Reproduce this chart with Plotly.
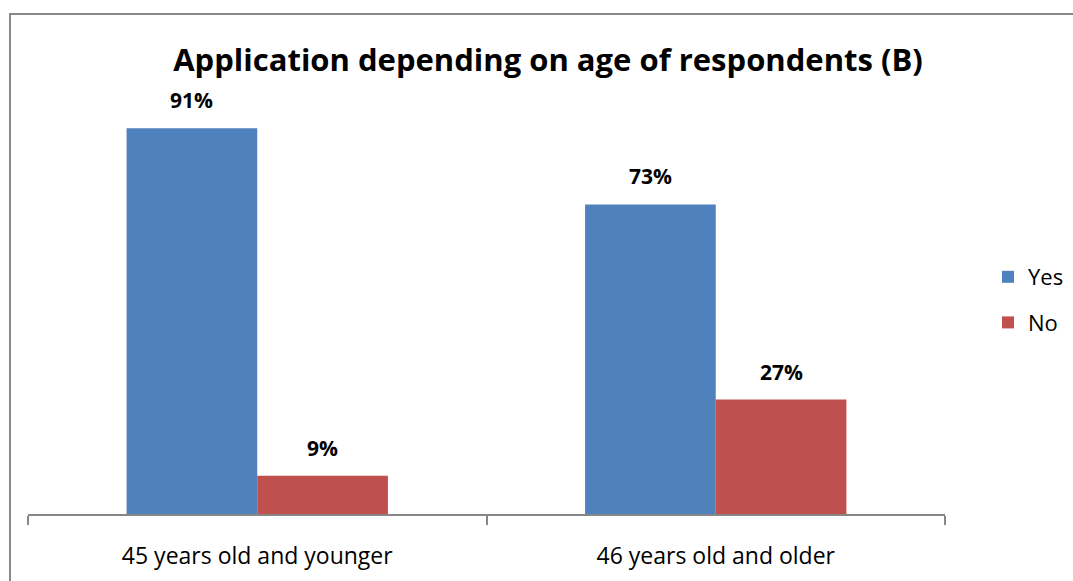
import plotly.graph_objects as go

categories = ["45 years old and younger", "46 years old and older"]
yes_values = [91, 73]
no_values = [9, 27]
series_names = ["Yes", "No"]
title_text = "Application depending on age of respondents (B)"

W, H = 1073, 581
L, R, T, B = 28, 0, 90, 67
PLOT_RIGHT = 945
pw, ph = W - L - R, H - T - B
dom_end = (PLOT_RIGHT - L) / pw

colors = ["#4F81BD", "#C0504D"]
FONT = "Open Sans, Calibri, sans-serif"

fig = go.Figure()
for name, vals, col in zip(series_names, [yes_values, no_values], colors):
    fig.add_trace(go.Bar(
        x=categories, y=vals, name=name, marker=dict(color=col, line=dict(width=0)),
        legendgroup=name,
    ))

# data labels as annotations above bars
bar_w = (1 - 0.43) / 2
for si, vals in enumerate([yes_values, no_values]):
    off = (si - 0.5) * bar_w
    for ci, v in enumerate(vals):
        fig.add_annotation(
            x=ci + off, y=v, xref="x", yref="y", text=f"<b>{v}%</b>",
            showarrow=False, yanchor="bottom", yshift=12,
            font=dict(family=FONT, size=21, color="#000000"),
        )

# outer chart border
fig.add_shape(type="rect", xref="paper", yref="paper",
              x0=(10 - L) / pw, x1=(W + 20 - L) / pw,
              y0=(H - B - (H + 20)) / ph, y1=(H - B - 14) / ph,
              line=dict(color="#888888", width=2), fillcolor="rgba(0,0,0,0)", layer="below")

fig.update_layout(
    width=W, height=H,
    margin=dict(l=L, r=R, t=T, b=B),
    paper_bgcolor="white", plot_bgcolor="white",
    barmode="group", bargap=0.43, bargroupgap=0,
    title=dict(text=f"<b>{title_text}</b>", x=548 / W, xanchor="center",
               y=1 - 60 / H, yanchor="middle",
               font=dict(family=FONT, size=31, color="#000000")),
    legend=dict(x=(988 - L) / pw, xanchor="left", y=(H - B - 256) / ph, yanchor="top",
                font=dict(family=FONT, size=22, color="#000000"),
                tracegroupgap=14, itemwidth=30, bgcolor="rgba(0,0,0,0)"),
    showlegend=True,
    font=dict(family=FONT),
)
fig.update_xaxes(
    domain=[0, dom_end],
    type="category", showline=True, linecolor="#868686", linewidth=1.5,
    ticks="outside", tickson="boundaries", ticklen=9, tickcolor="#868686", tickwidth=1.5,
    tickfont=dict(family=FONT, size=23, color="#000000"), ticklabelstandoff=21,
    showgrid=False, zeroline=False,
)
fig.update_yaxes(range=[0, 100], visible=False, showgrid=False, zeroline=False)

fig.write_html("out.html")
